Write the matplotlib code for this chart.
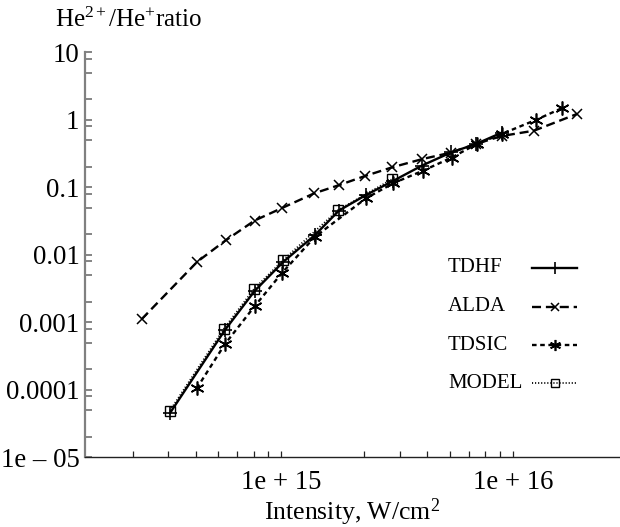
import numpy as np
import matplotlib
matplotlib.use("Agg")
import matplotlib.pyplot as plt
from matplotlib.ticker import FixedLocator, FixedFormatter, NullFormatter

# ---------------- data ----------------
tdhf_I = [3.30e14, 5.71e14, 7.66e14, 1.017e15, 1.398e15, 1.776e15, 2.323e15,
          3.038e15, 4.055e15, 5.411e15, 6.94e15, 8.99e15]
tdhf_R = [4.5e-5, 7.7e-4, 2.9e-3, 7.8e-3, 0.0196, 0.0453, 0.0769,
          0.124, 0.210, 0.328, 0.438, 0.648]

alda_I = [2.49e14, 4.335e14, 5.74e14, 7.67e14, 1.007e15, 1.388e15, 1.781e15,
          2.300e15, 3.018e15, 4.068e15, 5.396e15, 6.92e15, 8.96e15, 1.236e16, 1.896e16]
alda_R = [1.11e-3, 7.9e-3, 0.0163, 0.0322, 0.0493, 0.0815, 0.108,
          0.147, 0.198, 0.262, 0.326, 0.438, 0.575, 0.690, 1.22]

tdsic_I = [4.31e14, 5.71e14, 7.70e14, 1.004e15, 1.398e15, 2.323e15, 3.048e15,
           4.109e15, 5.45e15, 6.99e15, 8.96e15, 1.257e16, 1.641e16]
tdsic_R = [1.05e-4, 4.77e-4, 1.76e-3, 5.32e-3, 0.0185, 0.0687, 0.115,
           0.177, 0.276, 0.438, 0.616, 0.993, 1.50]

model_I = [3.30e14, 5.65e14, 7.62e14, 1.020e15, 1.763e15, 3.000e15]
model_R = [4.9e-5, 8.04e-4, 3.11e-3, 8.37e-3, 0.0461, 0.131]

series_names = ["TDHF", "ALDA", "TDSIC", "MODEL"]

y_ticks = [10, 1, 0.1, 0.01, 0.001, 0.0001, 1e-5]
y_tick_labels = ["10", "1", "0.1", "0.01", "0.001", "0.0001", "1e \u2013 05"]
x_ticks = [1e15, 1e16]
x_tick_labels = ["1e + 15", "1e + 16"]

# ---------------- style ----------------
plt.rcParams['font.family'] = ['Liberation Serif', 'DejaVu Serif']
plt.rcParams['mathtext.fontset'] = 'custom'
plt.rcParams['mathtext.rm'] = 'Liberation Serif'
plt.rcParams['mathtext.it'] = 'Liberation Serif:italic'
plt.rcParams['lines.scale_dashes'] = False

W, H = 620, 527
fig = plt.figure(figsize=(W / 100, H / 100), dpi=100)
ax_left, ax_right, ax_top, ax_bottom = 85, 620, 52.3, 457.3
ax = fig.add_axes([ax_left / W, (H - ax_bottom) / H,
                   (ax_right - ax_left) / W, (ax_bottom - ax_top) / H])

styles = {
    "TDHF": dict(color='black', lw=1.7, ls='-', marker='+', ms=10, mew=1.2),
    "ALDA": dict(color='black', lw=1.7, ls=(0, (6.5, 3.5)), marker='x', ms=6.5, mew=1.1),
    "TDSIC": dict(color='black', lw=1.7, ls=(0, (3.3, 2.6)), marker=(6, 2, 0), ms=10, mew=1.2),
    "MODEL": dict(color='black', lw=1.3, ls=(0, (0.8, 1.4)), marker='s', ms=6.5, mew=1.0,
                  mfc='none'),
}
data = {"TDHF": (tdhf_I, tdhf_R), "ALDA": (alda_I, alda_R),
        "TDSIC": (tdsic_I, tdsic_R), "MODEL": (model_I, model_R)}

for name in series_names:
    xs, ys = data[name]
    ax.plot(xs, ys, **styles[name], clip_on=False)

ax.set_xscale('log')
ax.set_yscale('log')
# axis extent: 1e15 at x-pixel 281.3, 1e16 at 512.7
dec_px = 512.7 - 281.3
ax.set_xlim(10 ** (15 + (ax_left - 281.3) / dec_px), 10 ** (15 + (ax_right - 281.3) / dec_px))
ax.set_ylim(1e-5, 10)

# x ticks (minor tick pattern drawn with a stretched decade as in original)
r = 284.0 / dec_px
x_minor = []
for dec in (15, 16):
    for k in range(3, 10):
        x_minor.append(10 ** (dec - (1 - np.log10(k)) * r))
ax.xaxis.set_major_locator(FixedLocator(x_ticks))
ax.xaxis.set_major_formatter(FixedFormatter(x_tick_labels))
ax.xaxis.set_minor_locator(FixedLocator(x_minor))
ax.xaxis.set_minor_formatter(NullFormatter())

y_minor = [m * 10.0 ** e for e in range(-5, 1) for m in (2, 5, 8)]
ax.yaxis.set_major_locator(FixedLocator(y_ticks))
ax.yaxis.set_major_formatter(FixedFormatter(y_tick_labels))
ax.yaxis.set_minor_locator(FixedLocator(y_minor))
ax.yaxis.set_minor_formatter(NullFormatter())

for s in ('top', 'right'):
    ax.spines[s].set_visible(False)
ax.spines['left'].set_color('#808080')
ax.spines['left'].set_linewidth(1.6)
ax.spines['bottom'].set_color('#222222')
ax.spines['bottom'].set_linewidth(1.0)

ax.tick_params(axis='y', which='both', direction='in', length=5, width=1.2,
               color='#707070', labelsize=19.3, pad=4)
ax.tick_params(axis='x', which='both', direction='in', length=4.5, width=0.9,
               color='#222222', labelsize=19.3, pad=9)

# labels
fig.text(55 / W, (H - 27) / H, r"He$^{\mathrm{2+}}$/He$^{\mathrm{+}}$ratio",
         fontsize=18, ha='left', va='baseline')
fig.text(352 / W, (H - 519.5) / H, r"Intensity, W/cm$^{\mathrm{2}}$",
         fontsize=18.5, ha='center', va='baseline')

# legend (labels left, samples right)
leg_text_x = (448 - ax_left) / (ax_right - ax_left)
h0 = (532 - ax_left) / (ax_right - ax_left)
h1 = (577 - ax_left) / (ax_right - ax_left)
leg_y_px = [268, 306.5, 345, 383.3]
for name, ypx in zip(series_names, leg_y_px):
    yf = (ax_bottom - ypx) / (ax_bottom - ax_top)
    ax.text(leg_text_x, yf, name, transform=ax.transAxes, fontsize=15,
            ha='left', va='center')
    st = dict(styles[name])
    st['ms'] = st['ms'] * 0.8
    ax.plot([h0, (h0 + h1) / 2, h1], [yf, yf, yf], transform=ax.transAxes,
            markevery=[1], clip_on=False, **st)

fig.savefig("out.png", dpi=100)
